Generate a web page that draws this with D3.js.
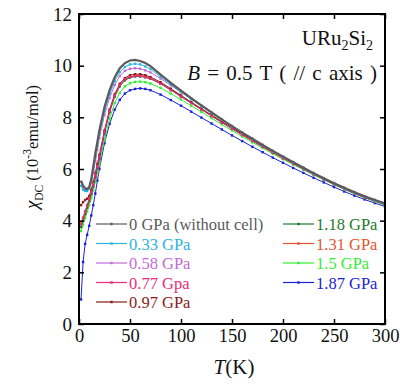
<!DOCTYPE html>
<html>
<head>
<meta charset="utf-8">
<script src="https://cdn.jsdelivr.net/npm/d3@7"></script>
<style>
  body { margin: 0; background: #fff; }
</style>
</head>
<body>
<svg id="chart" width="400" height="385"></svg>
<script>
// temperature grid (K)
const temps = [2, 4, 6, 8, 10, 12, 14, 16, 18, 20, 25, 30, 35, 40, 45, 50, 55, 60, 65, 70,
  80, 90, 100, 110, 120, 130, 140, 150, 160, 170, 180, 190, 200, 210, 220, 230, 240, 250,
  260, 270, 280, 290, 300];

// chi_DC (10^-3 emu/mol), one array per pressure
const p000 = [5.55, 5.35, 5.25, 5.22, 5.3, 5.6, 6.1, 6.6, 7.05, 7.5, 8.4, 9.05, 9.55, 9.9, 10.1, 10.2, 10.22, 10.18, 10.1, 9.98,
  9.65, 9.33, 9.03, 8.74, 8.46, 8.19, 7.92, 7.66, 7.41, 7.17, 6.93, 6.7, 6.48, 6.26, 6.05, 5.84, 5.64, 5.45, 5.27, 5.1, 4.94, 4.8, 4.67];
const p033 = [5.35, 5.2, 5.15, 5.15, 5.25, 5.5, 5.95, 6.45, 6.9, 7.35, 8.25, 8.9, 9.4, 9.75, 9.95, 10.05, 10.07, 10.05, 9.97, 9.87,
  9.57, 9.27, 8.98, 8.7, 8.43, 8.16, 7.9, 7.64, 7.39, 7.15, 6.91, 6.68, 6.46, 6.24, 6.03, 5.82, 5.62, 5.43, 5.25, 5.08, 4.92, 4.77, 4.63];
const p058 = [5.5, 5.3, 5.22, 5.2, 5.25, 5.45, 5.85, 6.3, 6.75, 7.2, 8.1, 8.75, 9.25, 9.6, 9.8, 9.88, 9.9, 9.88, 9.82, 9.74,
  9.5, 9.24, 8.97, 8.71, 8.45, 8.19, 7.93, 7.67, 7.42, 7.18, 6.94, 6.71, 6.49, 6.27, 6.06, 5.85, 5.65, 5.46, 5.28, 5.11, 4.95, 4.81, 4.68];
const p077 = [3.85, 4.1, 4.35, 4.6, 4.85, 5.1, 5.4, 5.75, 6.1, 6.45, 7.45, 8.25, 8.85, 9.25, 9.47, 9.57, 9.6, 9.6, 9.56, 9.5,
  9.3, 9.05, 8.8, 8.55, 8.3, 8.05, 7.8, 7.56, 7.32, 7.09, 6.86, 6.64, 6.42, 6.21, 6.0, 5.8, 5.6, 5.41, 5.23, 5.06, 4.9, 4.76, 4.63];
const p097 = [4.6, 4.72, 4.8, 4.85, 4.95, 5.2, 5.5, 5.85, 6.2, 6.55, 7.5, 8.3, 8.9, 9.3, 9.52, 9.63, 9.67, 9.67, 9.63, 9.56,
  9.36, 9.11, 8.85, 8.59, 8.34, 8.09, 7.84, 7.59, 7.35, 7.11, 6.88, 6.66, 6.44, 6.23, 6.02, 5.82, 5.62, 5.43, 5.25, 5.08, 4.92, 4.78, 4.65];
const p118 = [3.75, 4.0, 4.25, 4.5, 4.75, 5.02, 5.32, 5.67, 6.02, 6.38, 7.38, 8.2, 8.8, 9.2, 9.43, 9.54, 9.58, 9.58, 9.55, 9.49,
  9.3, 9.06, 8.81, 8.56, 8.31, 8.06, 7.81, 7.57, 7.33, 7.1, 6.87, 6.65, 6.43, 6.22, 6.01, 5.81, 5.61, 5.42, 5.24, 5.07, 4.91, 4.77, 4.64];
const p131 = [3.9, 4.12, 4.35, 4.58, 4.82, 5.08, 5.38, 5.72, 6.07, 6.42, 7.42, 8.22, 8.82, 9.22, 9.46, 9.57, 9.62, 9.62, 9.59, 9.52,
  9.32, 9.07, 8.82, 8.56, 8.31, 8.06, 7.81, 7.56, 7.32, 7.09, 6.86, 6.64, 6.42, 6.21, 6.0, 5.8, 5.6, 5.41, 5.23, 5.06, 4.9, 4.76, 4.62];
const p150 = [3.6, 3.85, 4.1, 4.35, 4.6, 4.87, 5.17, 5.5, 5.85, 6.2, 7.15, 7.95, 8.55, 8.95, 9.2, 9.32, 9.37, 9.38, 9.36, 9.31,
  9.14, 8.92, 8.69, 8.45, 8.21, 7.97, 7.73, 7.49, 7.26, 7.03, 6.81, 6.59, 6.38, 6.17, 5.97, 5.77, 5.58, 5.39, 5.21, 5.04, 4.88, 4.74, 4.6];
const p187 = [0.95, 2.4, 3.1, 3.45, 3.8, 4.2, 4.6, 5.05, 5.55, 6.0, 7.0, 7.75, 8.3, 8.68, 8.92, 9.05, 9.1, 9.12, 9.1, 9.05,
  8.88, 8.67, 8.45, 8.22, 7.99, 7.76, 7.53, 7.3, 7.08, 6.86, 6.65, 6.44, 6.24, 6.04, 5.85, 5.66, 5.48, 5.3, 5.13, 4.97, 4.82, 4.68, 4.55];

const labels = ['0 GPa (without cell)', '0.33 GPa', '0.58 GPa', '0.77 Gpa', '0.97 GPa',
  '1.18 GPa', '1.31 GPa', '1.5 GPa', '1.87 GPa'];
const colors = ['#5a5a5a', '#2ab4e0', '#c46ad8', '#ec2a7c', '#8c1a1a',
  '#1f7a2a', '#e4532f', '#33ee33', '#1a22d8'];
const values = [p000, p033, p058, p077, p097, p118, p131, p150, p187];

const xTicks = [0, 50, 100, 150, 200, 250, 300];
const yTicks = [0, 2, 4, 6, 8, 10, 12];

const FONT = "'Liberation Serif', 'DejaVu Serif', 'Times New Roman', Times, serif";

const svg = d3.select('#chart');
const plotL = 79, plotR = 385, plotT = 14, plotB = 324;

const x = d3.scaleLinear().domain([0, 300]).range([plotL, plotR]);
const y = d3.scaleLinear().domain([0, 12]).range([plotB, plotT]);

const series = labels.map((name, i) => ({
  name: name,
  color: colors[i],
  points: temps.map((t, j) => ({t: t, v: values[i][j]}))
}));

const line = d3.line().x(d => x(d.t)).y(d => y(d.v));

svg.append('clipPath').attr('id', 'plot-clip')
  .append('rect').attr('x', plotL).attr('y', plotT)
  .attr('width', plotR - plotL).attr('height', plotB - plotT);

const plot = svg.append('g').attr('clip-path', 'url(#plot-clip)');

// draw highest pressure first so ambient curve ends up on top
series.slice().reverse().forEach(s => {
  const ambient = s.name.startsWith('0 GPa');
  plot.append('path')
    .datum(s.points)
    .attr('fill', 'none')
    .attr('stroke', s.color)
    .attr('stroke-width', ambient ? 2.2 : 1)
    .attr('d', line);
  if (!ambient) {
    plot.selectAll(null)
      .data(s.points)
      .enter().append('rect')
      .attr('x', d => x(d.t) - 1.2)
      .attr('y', d => y(d.v) - 1.2)
      .attr('width', 2.4)
      .attr('height', 2.4)
      .attr('fill', s.color);
  }
});

// axes: inward ticks on all four sides
const tickLen = 5;
svg.append('g').attr('transform', `translate(0,${plotB})`)
  .call(d3.axisBottom(x).tickValues(xTicks).tickSizeInner(-tickLen).tickSizeOuter(0).tickPadding(5))
  .call(g => g.select('.domain').remove())
  .call(g => g.selectAll('line').attr('stroke', '#000').attr('stroke-width', 1.5))
  .call(g => g.selectAll('text').attr('font-size', 18.5).attr('fill', '#111'));

svg.append('g').attr('transform', `translate(0,${plotT})`)
  .call(d3.axisTop(x).tickValues(xTicks).tickSizeInner(-tickLen).tickSizeOuter(0).tickFormat(''))
  .call(g => g.select('.domain').remove())
  .call(g => g.selectAll('line').attr('stroke', '#000').attr('stroke-width', 1.5));

svg.append('g').attr('transform', `translate(${plotL},0)`)
  .call(d3.axisLeft(y).tickValues(yTicks).tickSizeInner(-tickLen).tickSizeOuter(0).tickPadding(7))
  .call(g => g.select('.domain').remove())
  .call(g => g.selectAll('line').attr('stroke', '#000').attr('stroke-width', 1.5))
  .call(g => g.selectAll('text').attr('font-size', 19).attr('fill', '#111'));

svg.append('g').attr('transform', `translate(${plotR},0)`)
  .call(d3.axisRight(y).tickValues(yTicks).tickSizeInner(-tickLen).tickSizeOuter(0).tickFormat(''))
  .call(g => g.select('.domain').remove())
  .call(g => g.selectAll('line').attr('stroke', '#000').attr('stroke-width', 1.5));

svg.append('rect')
  .attr('x', plotL).attr('y', plotT)
  .attr('width', plotR - plotL).attr('height', plotB - plotT)
  .attr('fill', 'none').attr('stroke', '#000').attr('stroke-width', 2);

// title texts
const t1 = svg.append('text').attr('x', 373).attr('y', 45)
  .attr('text-anchor', 'end').attr('font-size', 21).attr('fill', '#111');
t1.append('tspan').text('URu');
t1.append('tspan').attr('font-size', 14).attr('dy', 5).text('2');
t1.append('tspan').attr('dy', -5).text('Si');
t1.append('tspan').attr('font-size', 14).attr('dy', 5).text('2');

const t2 = svg.append('text').attr('x', 377).attr('y', 80)
  .attr('text-anchor', 'end').attr('font-size', 21).attr('fill', '#111')
  .attr('word-spacing', 2);
t2.append('tspan').attr('font-style', 'italic').text('B');
t2.append('tspan').text(' = 0.5 T ( // c axis )');

// axis titles
const yl = svg.append('text')
  .attr('transform', 'translate(38,147) rotate(-90)')
  .attr('text-anchor', 'middle').attr('font-size', 16.5).attr('fill', '#111');
yl.append('tspan').attr('font-style', 'italic').attr('font-size', 19).text('χ');
yl.append('tspan').attr('font-size', 11.5).attr('dy', 5).text('DC');
yl.append('tspan').attr('dy', -5).text(' (10');
yl.append('tspan').attr('font-size', 11.5).attr('dy', -7).text('-3');
yl.append('tspan').attr('dy', 7).text('emu/mol)');

const xl = svg.append('text').attr('x', 234).attr('y', 374)
  .attr('text-anchor', 'middle').attr('font-size', 21).attr('fill', '#111');
xl.append('tspan').attr('font-style', 'italic').text('T');
xl.append('tspan').text('(K)');

// legend
const legendPos = [
  [96, 224], [96, 243.5], [96, 263], [96, 282.5], [96, 302],
  [283, 224], [283, 243.5], [283, 263], [283, 282.5]
];
const legend = svg.append('g').selectAll('g')
  .data(series)
  .enter().append('g')
  .attr('transform', (d, i) => `translate(${legendPos[i][0]},${legendPos[i][1]})`);
legend.append('line')
  .attr('x1', 0).attr('x2', 31).attr('y1', 0).attr('y2', 0)
  .attr('stroke', d => d.color).attr('stroke-width', 1.2);
legend.append('rect')
  .attr('x', 14.3).attr('y', -1.2).attr('width', 2.4).attr('height', 2.4)
  .attr('fill', d => d.color);
legend.append('text')
  .attr('x', 33).attr('y', 6)
  .attr('font-size', 16.5)
  .attr('fill', d => d.color)
  .text(d => d.name);

// serif everywhere
svg.selectAll('text, g').attr('font-family', FONT);
svg.selectAll('text').style('font-family', FONT);
</script>
</body>
</html>
